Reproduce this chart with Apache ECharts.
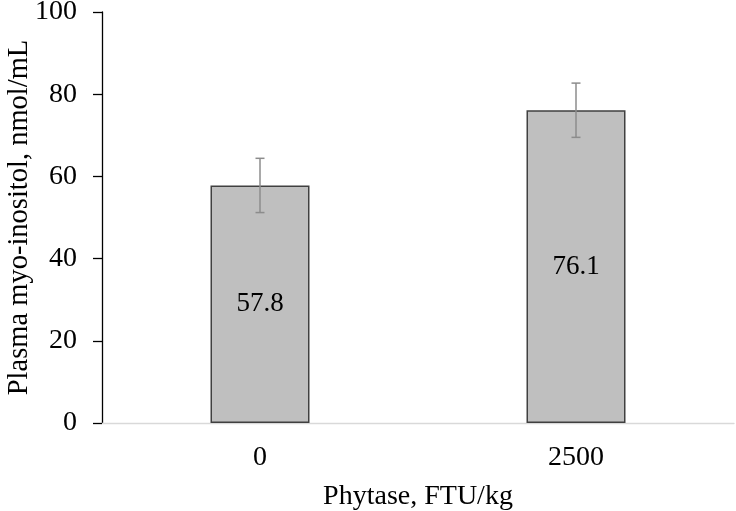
<!DOCTYPE html>
<html>
<head>
<meta charset="utf-8">
<script src="https://cdn.jsdelivr.net/npm/echarts@6/dist/echarts.min.js"></script>
<style>html,body{margin:0;padding:0;background:#fff;}#c{width:736px;height:511px;}</style>
</head>
<body>
<div id="c"></div>
<script>
var categories = ['0', '2500'];
var means = [57.8, 76.1];
var errors = [6.6, 6.6];
var yTicks = [0, 20, 40, 60, 80, 100];

var chart = echarts.init(document.getElementById('c'), null, {renderer: 'canvas'});
var font = '"Liberation Serif", "Times New Roman", serif';
var errData = means.map(function (m, i) { return [i, m - errors[i], m + errors[i]]; });

chart.setOption({
  animation: false,
  backgroundColor: '#fff',
  textStyle: {fontFamily: font},
  grid: {left: 102, right: 2, top: 12, bottom: 88, containLabel: false, outerBoundsMode: 'none'},
  xAxis: {
    type: 'category',
    data: categories,
    name: 'Phytase, FTU/kg',
    nameLocation: 'middle',
    nameGap: 60,
    nameMoveOverlap: false,
    nameTextStyle: {fontFamily: font, fontSize: 28, color: '#000'},
    axisLine: {lineStyle: {color: '#d9d9d9', width: 1.3}},
    axisTick: {show: false},
    axisLabel: {fontFamily: font, fontSize: 28, color: '#000', margin: 21}
  },
  yAxis: {
    type: 'value',
    min: yTicks[0],
    max: yTicks[yTicks.length - 1],
    interval: 20,
    name: 'Plasma myo-inositol, nmol/mL',
    nameLocation: 'middle',
    nameGap: 68,
    nameMoveOverlap: false,
    nameTextStyle: {fontFamily: font, fontSize: 28.5, color: '#000'},
    axisLine: {show: true, lineStyle: {color: '#000', width: 1.3}},
    axisTick: {show: true, inside: false, length: 9, lineStyle: {color: '#000', width: 1.3}},
    axisLabel: {fontFamily: font, fontSize: 28, color: '#000', margin: 25},
    splitLine: {show: false}
  },
  series: [
    {
      type: 'bar',
      data: means,
      barWidth: 99,
      itemStyle: {color: '#bfbfbf', borderColor: '#404040', borderWidth: 1.5},
      label: {show: true, position: 'inside', fontFamily: font, fontSize: 27, color: '#000',
        formatter: function (p) { return p.value.toFixed(1); }}
    },
    {
      type: 'custom',
      data: errData,
      z: 10,
      renderItem: function (params, api) {
        var x = api.value(0);
        var lo = api.coord([x, api.value(1)]);
        var hi = api.coord([x, api.value(2)]);
        var hw = 4.5;
        var st = {stroke: '#8c8c8c', lineWidth: 1.5};
        return {
          type: 'group',
          children: [
            {type: 'line', shape: {x1: lo[0], y1: lo[1], x2: hi[0], y2: hi[1]}, style: st},
            {type: 'line', shape: {x1: hi[0] - hw, y1: hi[1], x2: hi[0] + hw, y2: hi[1]}, style: st},
            {type: 'line', shape: {x1: lo[0] - hw, y1: lo[1], x2: lo[0] + hw, y2: lo[1]}, style: st}
          ]
        };
      }
    }
  ]
});
</script>
</body>
</html>
